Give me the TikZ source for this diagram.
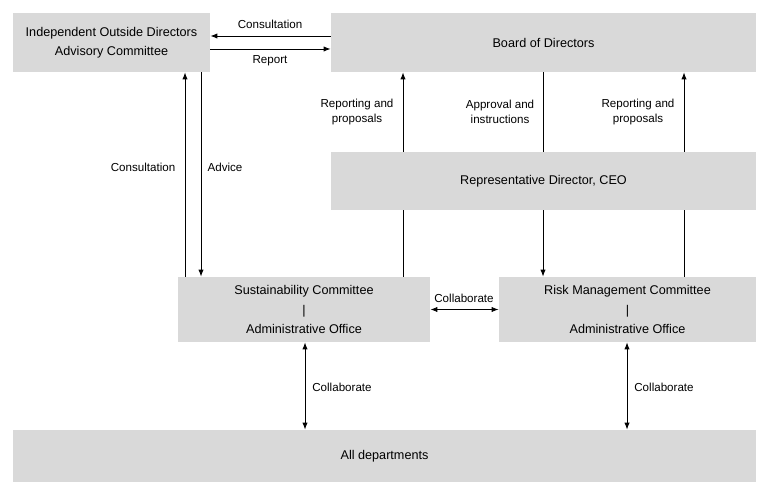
\documentclass[tikz,border=0pt]{standalone}
\usepackage{fontspec}
\setmainfont{Liberation Sans}
\usetikzlibrary{arrows.meta}
\definecolor{boxgray}{HTML}{D9D9D9}
\tikzset{
  box/.style={fill=boxgray, draw=none, inner sep=0pt, align=center,
    font=\fontsize{7.2}{11}\selectfont},
  lbl/.style={font=\fontsize{6.6}{8.2}\selectfont, align=center, inner sep=1pt},
  arr/.style={-{Latex[length=4pt,width=3pt]}, line width=0.5pt},
  darr/.style={{Latex[length=4pt,width=3pt]}-{Latex[length=4pt,width=3pt]}, line width=0.5pt}
}
\begin{document}
\begin{tikzpicture}[x=0.02cm, y=-0.02cm]
  \useasboundingbox (0,0) rectangle (763,489);

  % boxes
  \node[box, minimum width=197*0.02cm, minimum height=59*0.02cm] (iodac) at (111.5,42.5)
    {Independent Outside Directors\\Advisory Committee};
  \node[box, minimum width=425*0.02cm, minimum height=59*0.02cm] (board) at (543.5,42.5)
    {Board of Directors};
  \node[box, minimum width=252*0.02cm, minimum height=65*0.02cm] (sust) at (304,309.5)
    {Sustainability Committee\\|\\Administrative Office};
  \node[box, minimum width=257*0.02cm, minimum height=65*0.02cm] (risk) at (627.5,309.5)
    {Risk Management Committee\\|\\Administrative Office};
  \node[box, minimum width=743*0.02cm, minimum height=52*0.02cm] (all) at (384.5,456)
    {All departments};

  % connectors
  \coordinate (c1) at (403,0);
  \coordinate (c2) at (543,0);
  \coordinate (c3) at (684,0);
  \draw[arr] (board.west |- 0,36) -- (iodac.east |- 0,36);
  \draw[arr] (iodac.east |- 0,49) -- (board.west |- 0,49);
  \draw[arr] (sust.north -| 185,0) -- (iodac.south -| 185,0);
  \draw[arr] (iodac.south -| 201,0) -- (sust.north -| 201,0);
  \draw[arr] (sust.north -| c1) -- (board.south -| c1);
  \draw[arr] (board.south -| c2) -- (risk.north -| c2);
  \draw[arr] (risk.north -| c3) -- (board.south -| c3);
  \draw[darr] (sust.east) -- (risk.west);
  \draw[darr] (sust.south -| 305,0) -- (all.north -| 305,0);
  \draw[darr] (risk.south -| 627,0) -- (all.north -| 627,0);

  % CEO box over the lines
  \node[box, minimum width=425*0.02cm, minimum height=58*0.02cm] (ceo) at (543.5,181)
    {Representative Director, CEO};

  % labels
  \node[lbl] at (270,24) {Consultation};
  \node[lbl] at (270,61) {Report};
  \node[lbl] at (143,167) {Consultation};
  \node[lbl] at (225,167) {Advice};
  \node[lbl] at (357,112) {Reporting and\\proposals};
  \node[lbl] at (500,112) {Approval and\\instructions};
  \node[lbl] at (638,112) {Reporting and\\proposals};
  \node[lbl] at (464,298) {Collaborate};
  \node[lbl] at (342,387) {Collaborate};
  \node[lbl] at (664,387) {Collaborate};
\end{tikzpicture}
\end{document}
